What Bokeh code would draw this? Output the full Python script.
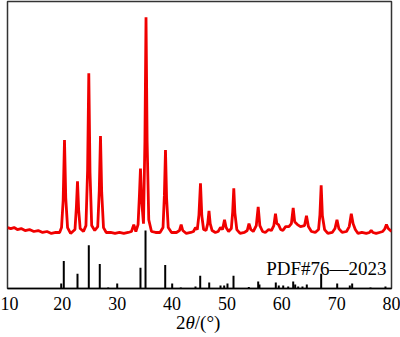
from bokeh.plotting import figure
from bokeh.models import Range1d, FixedTicker, Label, Div
from bokeh.layouts import column
from bokeh.embed import file_html
from bokeh.resources import INLINE

# Measured XRD pattern (2theta in degrees, intensity in a.u.)
two_theta = [10.0, 10.6, 11.2, 11.8, 12.5, 13.2, 14.0, 14.8, 15.6, 16.4, 17.2, 18.0, 18.8, 19.5,
             19.85, 20.15, 20.39, 20.62, 20.95, 21.5,
             22.3, 22.55, 22.76, 22.97, 23.25, 23.85,
             24.3, 24.6, 24.82, 25.04, 25.35, 25.9,
             26.45, 26.73, 26.95, 27.17, 27.5, 28.0, 28.8, 29.6, 30.4, 31.2, 32.0, 32.6, 33.02, 33.4,
             33.8, 34.05, 34.24, 34.45, 34.79,
             35.05, 35.25, 35.45, 35.75, 36.25, 37.0, 37.8,
             38.35, 38.6, 38.8, 39.0, 39.3, 39.9, 40.8, 41.35, 41.66, 41.95, 42.6, 43.4, 43.9, 44.27, 44.6,
             44.9, 45.18, 45.42, 45.75, 46.2,
             46.5, 46.73, 46.95, 47.3, 47.9, 48.4, 48.83, 49.2,
             49.56, 49.85, 50.3,
             50.8, 51.05, 51.25, 51.45, 51.8, 52.4, 53.2, 53.7, 54.02, 54.35, 54.8,
             55.35, 55.7, 56.0, 56.5, 57.0, 57.6, 58.1,
             58.55, 58.85, 59.1, 59.4, 59.8, 60.2, 60.7, 61.3,
             61.75, 62.08, 62.35, 62.86, 63.41,
             64.15, 64.5, 64.85, 65.4, 66.1, 66.7,
             66.95, 67.18, 67.4, 67.8, 68.4, 69.2,
             69.7, 70.06, 70.4, 71.0, 71.8, 72.3,
             72.67, 73.0, 73.4, 73.9, 74.6, 75.4, 76.0, 76.3, 76.6, 77.2, 77.8, 78.4, 78.8, 79.08, 79.4, 80.0]
intensity = [62, 61, 62, 60, 61, 59, 60, 58, 59, 57, 58, 56, 57, 57,
             62, 90, 151, 92, 62, 56,
             60, 82, 109, 80, 61, 58,
             64, 120, 219, 118, 64, 59,
             63, 100, 155, 98, 62, 57, 57, 56, 57, 56, 57, 58, 65, 58,
             65, 95, 122, 90, 66,
             150, 276, 150, 70, 58, 57, 57,
             62, 95, 141, 92, 62, 57, 57, 59, 65, 59, 56, 57, 58, 62, 60,
             75, 107, 74, 60, 59,
             66, 79, 66, 59, 57, 58, 62, 60,
             70, 62, 58,
             61, 78, 102, 77, 60, 56, 57, 59, 66, 60, 58,
             64, 83, 64, 58, 57, 60, 59,
             64, 76, 66, 65, 60, 59, 63, 63,
             66, 82, 68, 65, 63,
             64, 74, 63, 58, 57, 60,
             75, 105, 74, 60, 56, 57,
             61, 70, 61, 57, 58, 63,
             76, 66, 60, 56, 57, 56, 57, 59, 57, 56, 57, 58, 61, 65, 61, 58]

# Standard card PDF#76-2023 (2theta, relative intensity)
ref_theta = [19.79, 20.26, 22.76, 24.82, 26.82, 28.36, 30.0, 34.24, 35.16, 38.75, 40.02, 41.59,
             44.27, 45.13, 46.77, 48.83, 49.5, 50.1, 51.2, 53.99, 55.7, 55.93, 58.91, 59.45,
             60.26, 61.17, 62.08, 62.44, 62.99, 63.77, 64.56, 67.18, 70.1, 72.4, 72.83, 76.17, 78.9]
ref_height = [5, 28, 15, 44, 25, 1, 5, 21, 59, 24, 5, 1,
              2, 13, 6, 3, 3, 5, 13, 1.5, 7, 4, 6, 3,
              3, 2, 7, 4, 2, 2, 4, 15, 5, 3, 5, 1, 2]

x_ticks = [10, 20, 30, 40, 50, 60, 70, 80]
card_label = "PDF#76—2023"
x_title_html = "2<i>θ</i>/(°)"

p = figure(width=400, height=312, output_backend="svg", toolbar_location=None,
           x_range=Range1d(10, 80), y_range=Range1d(0, 292),
           min_border_left=7, min_border_right=9, min_border_top=1, min_border_bottom=19)
p.yaxis.visible = False
p.grid.visible = False
p.outline_line_color = "#333333"
p.outline_line_width = 1.5
p.background_fill_color = "white"
p.border_fill_color = "white"

ax = p.xaxis[0]
ax.ticker = FixedTicker(ticks=x_ticks)
ax.axis_line_color = "black"
ax.axis_line_width = 1.5
ax.major_tick_line_color = None
ax.minor_tick_line_color = None
ax.major_label_text_font = "Liberation Serif"
ax.major_label_text_font_size = "18px"
ax.major_label_text_color = "black"
ax.major_label_standoff = 2

p.line(two_theta, intensity, line_color="#f00000", line_width=2.8)
p.segment(x0=ref_theta, y0=[0] * len(ref_theta), x1=ref_theta, y1=ref_height,
          line_color="black", line_width=2)

p.add_layout(Label(x=79.09, y=20, text=card_label, text_align="right",
                   text_baseline="alphabetic", text_font="Liberation Serif",
                   text_font_size="19px", text_color="black"))

# axis title: 2θ/(°) with italic theta, as real HTML text under the plot
title = Div(text=x_title_html, width=400, height=25, margin=(0, 0, 0, 0),
            styles={"font-family": "'Liberation Serif', serif", "font-size": "19px",
                    "line-height": "22px", "padding-left": "176px", "color": "black",
                    "box-sizing": "border-box", "background": "white"})

layout = column(p, title, spacing=0)
open("out.html", "w").write(file_html(layout, INLINE))
